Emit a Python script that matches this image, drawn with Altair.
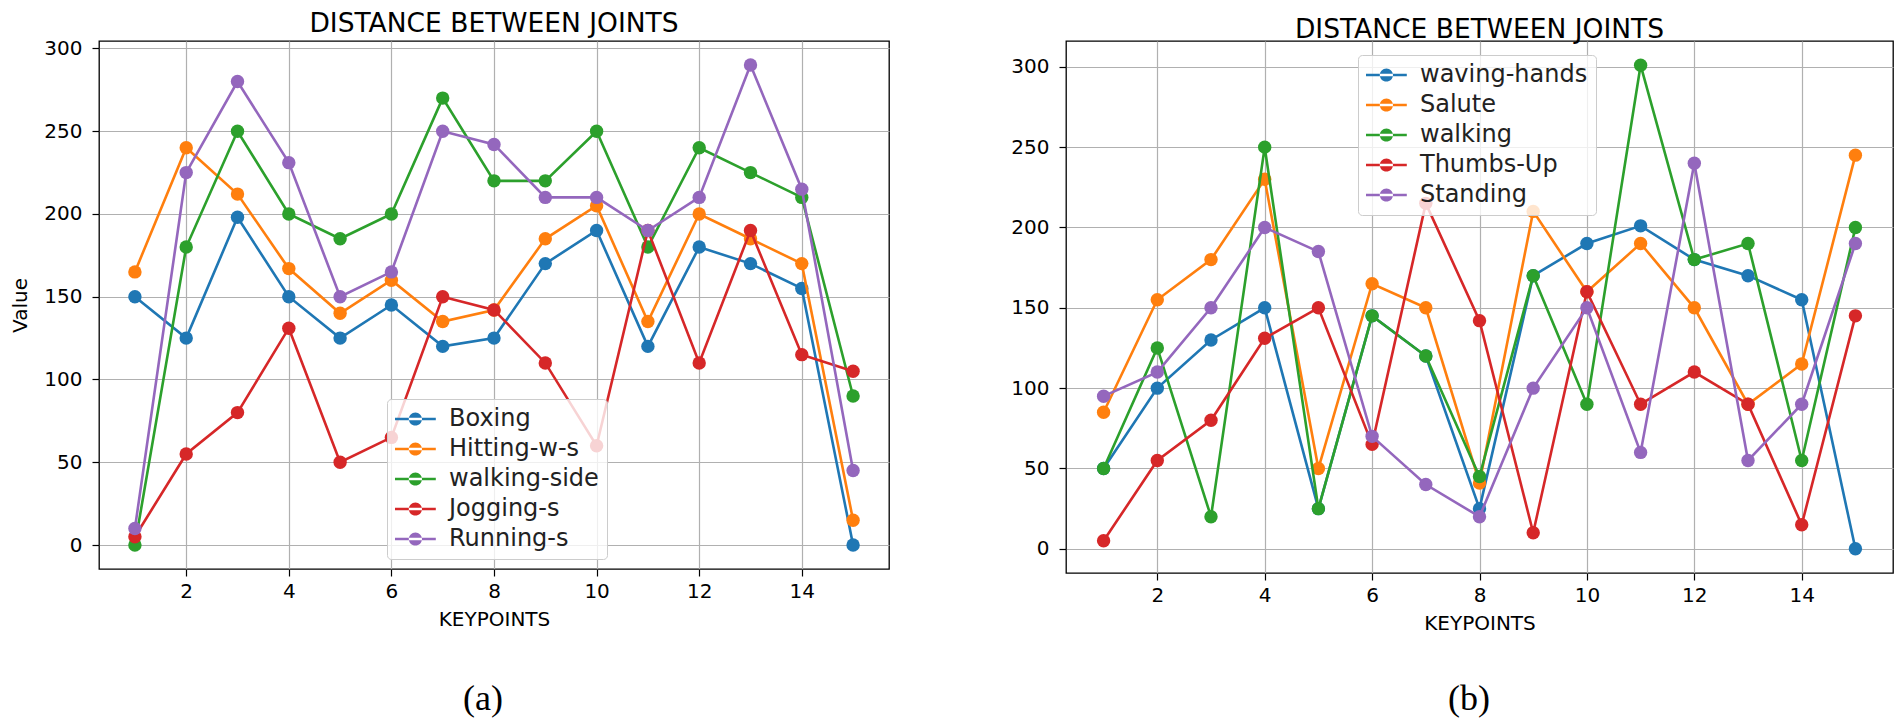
import altair as alt
import pandas as pd

# ---------------- data ----------------
keypoints = list(range(1, 16))

left_names = ["Boxing", "Hitting-w-s", "walking-side", "Jogging-s", "Running-s"]
boxing = [150, 125, 198, 150, 125, 145, 120, 125, 170, 190, 120, 180, 170, 155, 0]
hitting_w_s = [165, 240, 212, 167, 140, 160, 135, 142, 185, 205, 135, 200, 185, 170, 15]
walking_side = [0, 180, 250, 200, 185, 200, 270, 220, 220, 250, 180, 240, 225, 210, 90]
jogging_s = [5, 55, 80, 131, 50, 65, 150, 142, 110, 60, 190, 110, 190, 115, 105]
running_s = [10, 225, 280, 231, 150, 165, 250, 242, 210, 210, 190, 210, 290, 215, 45]

right_names = ["waving-hands", "Salute", "walking", "Thumbs-Up", "Standing"]
waving_hands = [50, 100, 130, 150, 25, 145, 120, 25, 170, 190, 201, 180, 170, 155, 0]
salute = [85, 155, 180, 230, 50, 165, 150, 41, 210, 160, 190, 150, 90, 115, 245]
walking = [50, 125, 20, 250, 25, 145, 120, 45, 170, 90, 301, 180, 190, 55, 200]
thumbs_up = [5, 55, 80, 131, 150, 65, 215, 142, 10, 160, 90, 110, 90, 15, 145]
standing = [95, 110, 150, 200, 185, 70, 40, 20, 100, 150, 60, 240, 55, 90, 190]

colors = ["#1f77b4", "#ff7f0e", "#2ca02c", "#d62728", "#9467bd"]
x_ticks = [2, 4, 6, 8, 10, 12, 14]
y_ticks = [0, 50, 100, 150, 200, 250, 300]
chart_title = "DISTANCE BETWEEN JOINTS"
x_title = "KEYPOINTS"
y_title = "Value"


def long_df(names, arrays):
    rows = []
    for n, arr in zip(names, arrays):
        for k, v in zip(keypoints, arr):
            rows.append({"keypoint": k, "value": v, "series": n})
    return pd.DataFrame(rows)


left_df = long_df(left_names, [boxing, hitting_w_s, walking_side, jogging_s, running_s])
right_df = long_df(right_names, [waving_hands, salute, walking, thumbs_up, standing])

FONT = "DejaVu Sans"
# line + dot legend glyph; symbol space unit = 12px, glyph spans x -1..2.4
SYMBOL = ("M-1,-0.1L2.4,-0.1L2.4,0.1L-1,0.1Z "
          "M0.15,0A0.55,0.55 0 1,0 1.25,0A0.55,0.55 0 1,0 0.15,0Z")


def panel(df, names, width, height, ydom, ytitle, legend_xy, caption, cap_xy, title_offset):
    color = alt.Color(
        "series:N",
        scale=alt.Scale(domain=names, range=colors),
        legend=alt.Legend(
            title=None, orient="none", legendX=legend_xy[0], legendY=legend_xy[1],
            symbolType=SYMBOL, symbolSize=576, symbolStrokeWidth=0, symbolOpacity=1,
            labelFont=FONT, labelFontSize=24, labelColor="#222222", labelOffset=30,
            labelLimit=400,
            fillColor="rgba(255,255,255,0.8)", strokeColor="#cccccc", cornerRadius=4,
            padding=8, rowPadding=6,
        ),
    )
    x = alt.X("keypoint:Q",
              scale=alt.Scale(domain=[0.3, 15.7], nice=False, zero=False),
              axis=alt.Axis(values=x_ticks, title=x_title, labelPadding=5, titlePadding=8))
    y = alt.Y("value:Q",
              scale=alt.Scale(domain=ydom, nice=False, zero=False),
              axis=alt.Axis(values=y_ticks, title=ytitle, labelPadding=10, titlePadding=13))
    base = alt.Chart(df)
    layers = []
    for n in names:
        b = base.transform_filter(alt.datum.series == n)
        layers.append(b.mark_line(strokeWidth=2.6).encode(x=x, y=y, color=color))
        layers.append(b.mark_point(filled=True, size=180, opacity=1).encode(x=x, y=y, color=color))
    cap = alt.Chart(pd.DataFrame({"t": [caption]})).mark_text(
        font="Liberation Serif", fontSize=36, color="black", baseline="middle", align="center"
    ).encode(x=alt.value(cap_xy[0]), y=alt.value(cap_xy[1]), text="t:N")
    return alt.layer(*layers, cap).properties(
        width=width, height=height,
        title=alt.TitleParams(chart_title, font=FONT, fontSize=26.5, fontWeight="normal",
                              color="black", offset=title_offset),
    )


left = panel(left_df, left_names, 790, 528, [-14.5, 304.5], y_title, (288, 358), "(a)", (384, 658), 1)
right = panel(right_df, right_names, 827, 532, [-15.05, 316.05], None, (292, 14), "(b)", (403, 658), -2)

chart = alt.hconcat(left, right, spacing=120).resolve_scale(color="independent").properties(
    padding={"top": 2, "left": 2, "right": 0, "bottom": 0}, background="white"
).configure_view(stroke="black", strokeWidth=1.3).configure_axis(
    labelFont=FONT, labelFontSize=20, labelColor="black",
    titleFont=FONT, titleFontSize=20, titleFontWeight="normal", titleColor="black",
    grid=True, gridColor="#b0b0b0", gridWidth=1.2,
    tickColor="black", tickSize=7, tickWidth=1.2, domain=False,
)

chart.save("out.html", embed_options={"renderer": "svg", "actions": False})
